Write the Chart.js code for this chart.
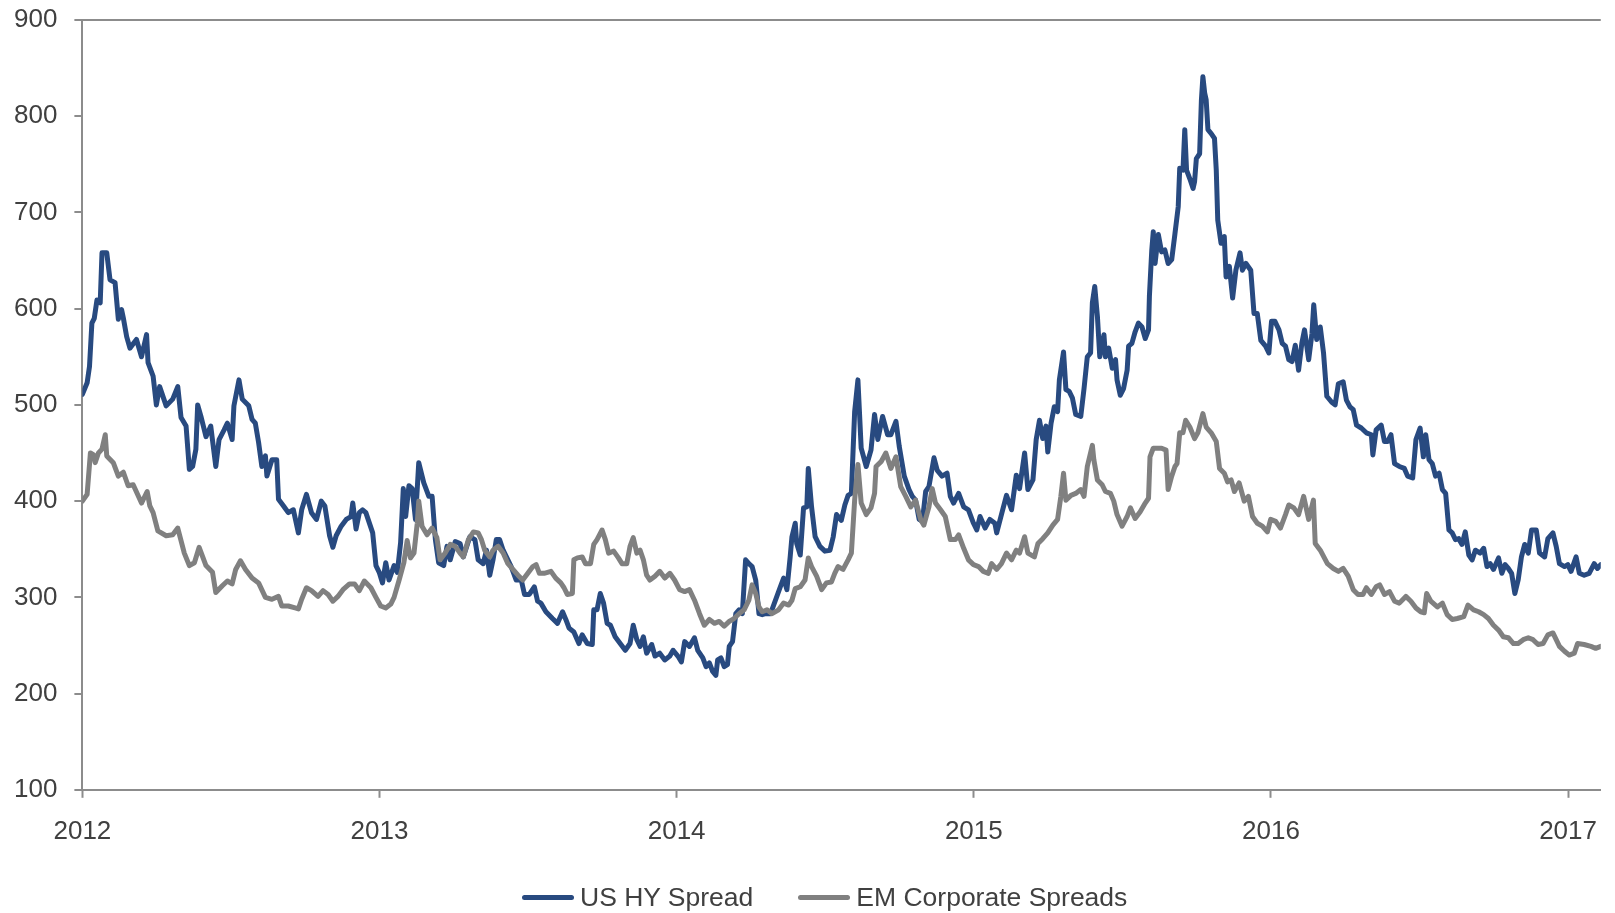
<!DOCTYPE html>
<html>
<head>
<meta charset="utf-8">
<title>US HY vs EM Corporate Spreads</title>
<script src="https://cdn.jsdelivr.net/npm/chart.js@4.4.1/dist/chart.umd.min.js"></script>
<style>
    html, body { margin: 0; padding: 0; background: #fff; }
    .wrap { position: relative; width: 1615px; height: 913px; }
    canvas { position: absolute; left: 0; top: 0; }
    .legend {
        position: absolute; left: 522px; top: 882px; height: 30px;
        display: flex; align-items: center;
        font-family: 'Liberation Sans', Arial, sans-serif; font-size: 26.5px; color: #404040;
    }
    .legend .item { display: flex; align-items: center; margin-right: 45px; }
    .legend .swatch { width: 52px; height: 5px; border-radius: 3px; margin-right: 6px; }
</style>
</head>
<body>
<div class="wrap">
    <canvas id="spreadChart" width="1615" height="913"></canvas>
    <div class="legend" id="legend"></div>
</div>
<script>
// --- Data (fractional years / spread in bp) ---
const yearTicks = [2012, 2013, 2014, 2015, 2016, 2017];
const seriesNames = ['US HY Spread', 'EM Corporate Spreads'];

const hyYears = [
    2012.000, 2012.016, 2012.024, 2012.032, 2012.040, 2012.049, 2012.060, 2012.066, 2012.082, 2012.093,
    2012.110, 2012.121, 2012.132, 2012.138, 2012.149, 2012.160, 2012.182, 2012.199, 2012.216, 2012.221,
    2012.238, 2012.249, 2012.260, 2012.282, 2012.304, 2012.321, 2012.332, 2012.349, 2012.360, 2012.371,
    2012.382, 2012.388, 2012.399, 2012.416, 2012.432, 2012.449, 2012.460, 2012.477, 2012.488, 2012.504,
    2012.510, 2012.527, 2012.538, 2012.560, 2012.571, 2012.582, 2012.593, 2012.604, 2012.616, 2012.621,
    2012.638, 2012.654, 2012.660, 2012.677, 2012.693, 2012.710, 2012.727, 2012.738, 2012.754, 2012.771,
    2012.788, 2012.804, 2012.816, 2012.832, 2012.843, 2012.854, 2012.871, 2012.888, 2012.904, 2012.910,
    2012.921, 2012.932, 2012.943, 2012.954, 2012.977, 2012.988, 2012.999, 2013.010, 2013.021, 2013.032,
    2013.049, 2013.060, 2013.071, 2013.080, 2013.088, 2013.099, 2013.110, 2013.121, 2013.132, 2013.149,
    2013.166, 2013.177, 2013.188, 2013.199, 2013.216, 2013.227, 2013.238, 2013.255, 2013.271, 2013.282,
    2013.304, 2013.321, 2013.332, 2013.349, 2013.360, 2013.371, 2013.382, 2013.393, 2013.404, 2013.416,
    2013.432, 2013.443, 2013.460, 2013.477, 2013.488, 2013.504, 2013.521, 2013.532, 2013.543, 2013.560,
    2013.582, 2013.599, 2013.616, 2013.627, 2013.638, 2013.654, 2013.671, 2013.682, 2013.699, 2013.716,
    2013.721, 2013.732, 2013.743, 2013.754, 2013.766, 2013.777, 2013.793, 2013.810, 2013.827, 2013.843,
    2013.854, 2013.866, 2013.877, 2013.888, 2013.899, 2013.916, 2013.927, 2013.943, 2013.960, 2013.977,
    2013.988, 2014.004, 2014.016, 2014.027, 2014.043, 2014.060, 2014.071, 2014.088, 2014.099, 2014.110,
    2014.121, 2014.132, 2014.138, 2014.149, 2014.160, 2014.171, 2014.177, 2014.188, 2014.199, 2014.210,
    2014.221, 2014.232, 2014.243, 2014.254, 2014.266, 2014.277, 2014.288, 2014.299, 2014.316, 2014.349,
    2014.360, 2014.371, 2014.382, 2014.388, 2014.399, 2014.404, 2014.416, 2014.427, 2014.438, 2014.443,
    2014.454, 2014.466, 2014.482, 2014.499, 2014.516, 2014.527, 2014.538, 2014.554, 2014.566, 2014.577,
    2014.588, 2014.599, 2014.610, 2014.621, 2014.638, 2014.654, 2014.666, 2014.677, 2014.693, 2014.710,
    2014.721, 2014.738, 2014.749, 2014.766, 2014.782, 2014.793, 2014.804, 2014.816, 2014.827, 2014.838,
    2014.849, 2014.866, 2014.877, 2014.893, 2014.910, 2014.921, 2014.932, 2014.949, 2014.966, 2014.982,
    2014.999, 2015.010, 2015.021, 2015.038, 2015.054, 2015.071, 2015.077, 2015.093, 2015.110, 2015.127,
    2015.143, 2015.154, 2015.171, 2015.182, 2015.199, 2015.210, 2015.221, 2015.232, 2015.243, 2015.249,
    2015.260, 2015.271, 2015.282, 2015.288, 2015.302, 2015.310, 2015.321, 2015.332, 2015.343, 2015.360,
    2015.371, 2015.382, 2015.393, 2015.399, 2015.407, 2015.416, 2015.424, 2015.438, 2015.443, 2015.454,
    2015.466, 2015.477, 2015.482, 2015.493, 2015.504, 2015.516, 2015.521, 2015.532, 2015.543, 2015.554,
    2015.566, 2015.577, 2015.588, 2015.591, 2015.599, 2015.604, 2015.610, 2015.621, 2015.632, 2015.643,
    2015.654, 2015.666, 2015.677, 2015.688, 2015.693, 2015.704, 2015.710, 2015.716, 2015.727, 2015.738,
    2015.743, 2015.749, 2015.760, 2015.766, 2015.771, 2015.777, 2015.782, 2015.788, 2015.799, 2015.810,
    2015.816, 2015.821, 2015.832, 2015.843, 2015.849, 2015.860, 2015.871, 2015.882, 2015.896, 2015.904,
    2015.916, 2015.932, 2015.943, 2015.954, 2015.966, 2015.982, 2015.993, 2016.002, 2016.013, 2016.027,
    2016.038, 2016.049, 2016.060, 2016.071, 2016.082, 2016.093, 2016.104, 2016.113, 2016.127, 2016.138,
    2016.144, 2016.154, 2016.166, 2016.177, 2016.188, 2016.204, 2016.216, 2016.227, 2016.243, 2016.254,
    2016.266, 2016.277, 2016.288, 2016.304, 2016.321, 2016.338, 2016.343, 2016.354, 2016.371, 2016.382,
    2016.393, 2016.404, 2016.416, 2016.432, 2016.449, 2016.460, 2016.477, 2016.488, 2016.502, 2016.513,
    2016.521, 2016.532, 2016.543, 2016.554, 2016.566, 2016.577, 2016.588, 2016.599, 2016.610, 2016.621,
    2016.632, 2016.643, 2016.654, 2016.666, 2016.677, 2016.688, 2016.704, 2016.716, 2016.727, 2016.738,
    2016.749, 2016.766, 2016.777, 2016.788, 2016.799, 2016.810, 2016.821, 2016.832, 2016.843, 2016.854,
    2016.866, 2016.877, 2016.893, 2016.904, 2016.921, 2016.932, 2016.949, 2016.960, 2016.971, 2016.988,
    2016.999, 2017.010, 2017.027, 2017.038, 2017.054, 2017.071, 2017.088, 2017.099, 2017.110
];
const hyValues = [
    511, 523, 540, 585, 590, 609, 606, 658, 658, 630,
    627, 589, 599, 590, 571, 559, 568, 550, 573, 544,
    530, 500, 519, 499, 506, 519, 487, 478, 433, 436,
    454, 500, 488, 467, 478, 436, 464, 474, 481, 464,
    499, 526, 506, 499, 485, 481, 461, 436, 447, 426,
    443, 443, 402, 395, 388, 391, 367, 391, 407, 388,
    381, 400, 395, 364, 352, 364, 374, 381, 384, 398,
    371, 388, 391, 388, 367, 333, 326, 315, 336, 318,
    333, 326, 357, 413, 384, 416, 413, 381, 440, 419,
    405, 405, 360, 336, 333, 353, 339, 358, 356, 342,
    363, 360, 339, 335, 349, 323, 339, 360, 360, 349,
    339, 332, 318, 318, 303, 303, 311, 296, 294, 285,
    278, 273, 285, 277, 268, 264, 252, 261, 252, 251,
    287, 287, 304, 294, 273, 271, 259, 252, 245, 252,
    271, 256, 249, 259, 242, 251, 239, 242, 235, 239,
    245, 239, 233, 254, 249, 258, 245, 237, 228, 232,
    223, 219, 235, 237, 228, 230, 249, 254, 283, 287,
    283, 339, 335, 332, 318, 283, 282, 283, 283, 311,
    320, 308, 342, 363, 377, 356, 344, 393, 394, 434,
    394, 363, 353, 348, 349, 363, 386, 380, 396, 406,
    408, 493, 526, 455, 436, 453, 490, 464, 488, 469,
    469, 483, 457, 426, 412, 405, 401, 381, 379, 410,
    415, 445, 432, 426, 429, 405, 398, 408, 394, 391,
    377, 370, 384, 372, 381, 377, 367, 386, 406, 391,
    427, 413, 450, 412, 422, 464, 484, 465, 478, 451,
    481, 498, 493, 526, 555, 516, 514, 507, 490, 488,
    517, 550, 554, 606, 623, 592, 550, 573, 550, 559,
    538, 547, 526, 510, 517, 536, 561, 564, 576, 585,
    581, 569, 578, 613, 661, 680, 647, 677, 659, 661,
    647, 651, 678, 706, 746, 744, 786, 744, 735, 725,
    732, 756, 761, 817, 841, 824, 817, 786, 782, 777,
    744, 692, 668, 675, 633, 644, 611, 640, 658, 640,
    647, 640, 595, 595, 567, 561, 554, 587, 587, 578,
    564, 561, 547, 545, 562, 536, 564, 578, 547, 574,
    604, 568, 581, 554, 509, 503, 500, 522, 524, 505,
    498, 495, 479, 476, 471, 469, 448, 474, 479, 462,
    462, 469, 439, 436, 434, 426, 424, 464, 476, 446,
    469, 443, 439, 426, 429, 412, 408, 370, 367, 360,
    361, 355, 368, 344, 339, 349, 346, 351, 332, 335,
    329, 341, 325, 334, 330, 325, 304, 318, 342, 355,
    346, 370, 370, 346, 342, 361, 367, 353, 335, 332,
    334, 327, 342, 325, 323, 325, 335, 330, 334
];

const emYears = [
    2012.000, 2012.016, 2012.027, 2012.038, 2012.043, 2012.054, 2012.066, 2012.077, 2012.082, 2012.104,
    2012.121, 2012.138, 2012.154, 2012.171, 2012.199, 2012.218, 2012.227, 2012.238, 2012.254, 2012.282,
    2012.304, 2012.321, 2012.343, 2012.360, 2012.377, 2012.393, 2012.416, 2012.438, 2012.449, 2012.471,
    2012.488, 2012.504, 2012.516, 2012.532, 2012.549, 2012.571, 2012.593, 2012.616, 2012.638, 2012.660,
    2012.671, 2012.693, 2012.716, 2012.727, 2012.738, 2012.754, 2012.771, 2012.793, 2012.810, 2012.827,
    2012.843, 2012.860, 2012.877, 2012.899, 2012.916, 2012.932, 2012.949, 2012.971, 2012.988, 2013.004,
    2013.021, 2013.038, 2013.049, 2013.066, 2013.082, 2013.093, 2013.104, 2013.116, 2013.127, 2013.132,
    2013.143, 2013.160, 2013.177, 2013.193, 2013.204, 2013.221, 2013.238, 2013.255, 2013.271, 2013.282,
    2013.299, 2013.316, 2013.332, 2013.343, 2013.354, 2013.371, 2013.382, 2013.399, 2013.416, 2013.432,
    2013.449, 2013.466, 2013.482, 2013.499, 2013.516, 2013.527, 2013.538, 2013.554, 2013.577, 2013.593,
    2013.610, 2013.621, 2013.632, 2013.649, 2013.654, 2013.666, 2013.682, 2013.693, 2013.710, 2013.721,
    2013.732, 2013.749, 2013.760, 2013.771, 2013.788, 2013.804, 2013.816, 2013.832, 2013.843, 2013.854,
    2013.866, 2013.877, 2013.888, 2013.899, 2013.910, 2013.927, 2013.943, 2013.960, 2013.977, 2013.993,
    2014.010, 2014.027, 2014.043, 2014.060, 2014.077, 2014.093, 2014.110, 2014.127, 2014.143, 2014.160,
    2014.177, 2014.193, 2014.210, 2014.227, 2014.243, 2014.254, 2014.266, 2014.277, 2014.288, 2014.304,
    2014.321, 2014.343, 2014.360, 2014.377, 2014.388, 2014.399, 2014.416, 2014.432, 2014.443, 2014.454,
    2014.471, 2014.488, 2014.504, 2014.521, 2014.532, 2014.543, 2014.560, 2014.577, 2014.588, 2014.599,
    2014.610, 2014.621, 2014.638, 2014.654, 2014.666, 2014.671, 2014.688, 2014.704, 2014.721, 2014.738,
    2014.754, 2014.771, 2014.788, 2014.804, 2014.821, 2014.832, 2014.849, 2014.860, 2014.871, 2014.888,
    2014.904, 2014.921, 2014.938, 2014.949, 2014.966, 2014.982, 2014.999, 2015.016, 2015.032, 2015.049,
    2015.060, 2015.077, 2015.093, 2015.110, 2015.127, 2015.143, 2015.154, 2015.171, 2015.182, 2015.204,
    2015.216, 2015.232, 2015.249, 2015.266, 2015.282, 2015.293, 2015.302, 2015.310, 2015.327, 2015.343,
    2015.360, 2015.371, 2015.382, 2015.399, 2015.404, 2015.416, 2015.432, 2015.443, 2015.460, 2015.471,
    2015.482, 2015.499, 2015.516, 2015.527, 2015.543, 2015.560, 2015.577, 2015.588, 2015.593, 2015.604,
    2015.621, 2015.632, 2015.647, 2015.654, 2015.666, 2015.677, 2015.684, 2015.693, 2015.704, 2015.713,
    2015.727, 2015.743, 2015.754, 2015.771, 2015.782, 2015.799, 2015.816, 2015.827, 2015.843, 2015.854,
    2015.866, 2015.877, 2015.893, 2015.910, 2015.924, 2015.938, 2015.954, 2015.971, 2015.988, 2015.999,
    2016.016, 2016.032, 2016.049, 2016.060, 2016.077, 2016.093, 2016.110, 2016.127, 2016.143, 2016.149,
    2016.166, 2016.190, 2016.210, 2016.227, 2016.243, 2016.260, 2016.277, 2016.293, 2016.310, 2016.321,
    2016.338, 2016.354, 2016.366, 2016.382, 2016.399, 2016.416, 2016.432, 2016.454, 2016.471, 2016.488,
    2016.504, 2016.516, 2016.524, 2016.538, 2016.560, 2016.577, 2016.593, 2016.610, 2016.627, 2016.649,
    2016.663, 2016.682, 2016.699, 2016.716, 2016.732, 2016.749, 2016.766, 2016.782, 2016.799, 2016.816,
    2016.832, 2016.849, 2016.866, 2016.882, 2016.899, 2016.916, 2016.932, 2016.949, 2016.960, 2016.971,
    2016.988, 2017.004, 2017.021, 2017.032, 2017.054, 2017.077, 2017.093, 2017.110
];
const emValues = [
    400, 407, 450, 448, 440, 450, 454, 469, 447, 440,
    426, 430, 416, 417, 398, 410, 395, 388, 369, 364,
    365, 372, 346, 333, 336, 352, 333, 326, 305, 312,
    317, 314, 329, 338, 329, 320, 315, 300, 298, 301,
    291, 291, 289, 288, 298, 310, 307, 301, 307, 303,
    296, 301, 308, 314, 314, 307, 317, 310, 300, 291,
    289, 293, 300, 318, 336, 359, 341, 346, 377, 400,
    374, 365, 372, 362, 339, 346, 355, 353, 346, 342,
    360, 368, 367, 360, 349, 342, 349, 353, 346, 335,
    329, 323, 318, 325, 332, 334, 325, 325, 327, 320,
    315, 310, 303, 304, 339, 341, 342, 335, 335, 355,
    360, 370, 360, 346, 348, 341, 335, 335, 353, 362,
    346, 349, 339, 323, 318, 322, 327, 320, 325, 318,
    308, 306, 308, 297, 283, 271, 277, 273, 275, 270,
    275, 278, 283, 287, 297, 313, 304, 290, 285, 287,
    283, 287, 294, 292, 297, 309, 311, 318, 341, 332,
    322, 308, 315, 316, 325, 332, 329, 339, 346, 401,
    438, 398, 386, 393, 408, 436, 441, 450, 434, 446,
    415, 405, 394, 401, 381, 375, 394, 413, 398, 391,
    384, 360, 360, 365, 351, 339, 334, 332, 327, 325,
    335, 329, 335, 346, 339, 349, 346, 363, 346, 342,
    356, 361, 367, 375, 381, 405, 429, 401, 406, 408,
    412, 405, 436, 458, 443, 422, 417, 410, 408, 400,
    386, 374, 384, 393, 382, 389, 398, 403, 446, 455,
    455, 455, 453, 412, 426, 436, 439, 471, 471, 484,
    477, 465, 471, 491, 477, 471, 462, 434, 429, 420,
    422, 410, 419, 400, 405, 384, 377, 374, 368, 381,
    379, 372, 386, 396, 393, 386, 405, 381, 401, 356,
    349, 335, 330, 327, 330, 322, 308, 303, 303, 310,
    303, 311, 313, 303, 306, 296, 294, 301, 296, 289,
    285, 284, 304, 296, 290, 294, 282, 277, 278, 280,
    292, 287, 285, 282, 278, 271, 266, 259, 258, 252,
    252, 256, 258, 256, 251, 252, 261, 263, 256, 249,
    244, 240, 242, 252, 251, 249, 247, 249
];

const hyColor = '#284a80';
const emColor = '#808080';
const axisColor = '#8c8c8c';
const labelColor = '#404040';
const fontFamily = "'Liberation Sans', Arial, sans-serif";

// --- Chart ---
function toPoints(xs, ys) {
    return xs.map((x, i) => ({ x: x, y: ys[i] }));
}

const ctx = document.getElementById('spreadChart').getContext('2d');

const spreadChart = new Chart(ctx, {
    type: 'line',
    data: {
        datasets: [
            {
                label: seriesNames[0],
                data: toPoints(hyYears, hyValues),
                borderColor: hyColor,
                backgroundColor: hyColor,
                borderWidth: 5,
                pointRadius: 0,
                tension: 0,
                borderJoinStyle: 'round',
                borderCapStyle: 'round',
                order: 1
            },
            {
                label: seriesNames[1],
                data: toPoints(emYears, emValues),
                borderColor: emColor,
                backgroundColor: emColor,
                borderWidth: 5,
                pointRadius: 0,
                tension: 0,
                borderJoinStyle: 'round',
                borderCapStyle: 'round',
                order: 0
            }
        ]
    },
    options: {
        responsive: false,
        animation: false,
        devicePixelRatio: 1,
        layout: { padding: { left: -3, top: 20, right: 0, bottom: 48 } },
        plugins: {
            legend: { display: false },
            tooltip: { enabled: false }
        },
        scales: {
            x: {
                type: 'linear',
                min: 2012,
                max: 2017.11,
                afterBuildTicks: scale => { scale.ticks = yearTicks.map(v => ({ value: v })); },
                ticks: {
                    color: labelColor,
                    font: { family: fontFamily, size: 26 },
                    padding: 18,
                    maxRotation: 0,
                    autoSkip: false,
                    callback: v => String(v)
                },
                grid: { drawOnChartArea: false, tickLength: 8, tickColor: axisColor, tickWidth: 2 },
                border: { color: axisColor, width: 2 }
            },
            y: {
                min: 100,
                max: 900,
                // tick padding would otherwise also be added above the top label
                afterFit: scale => { scale.paddingTop = 0; scale.paddingBottom = 0; },
                ticks: {
                    stepSize: 100,
                    color: labelColor,
                    font: { family: fontFamily, size: 26 },
                    padding: 17
                },
                grid: {
                    color: c => (c.tick && c.tick.value === 900 ? axisColor : 'rgba(0,0,0,0)'),
                    lineWidth: 2,
                    tickLength: 8,
                    tickColor: axisColor,
                    tickWidth: 2
                },
                border: { color: axisColor, width: 2 }
            }
        }
    }
});

// --- HTML legend ---
const legendEl = document.getElementById('legend');
spreadChart.data.datasets.forEach(ds => {
    const item = document.createElement('div');
    item.className = 'item';
    item.innerHTML = `<span class="swatch" style="background:${ds.borderColor}"></span><span>${ds.label}</span>`;
    legendEl.appendChild(item);
});
</script>
</body>
</html>
